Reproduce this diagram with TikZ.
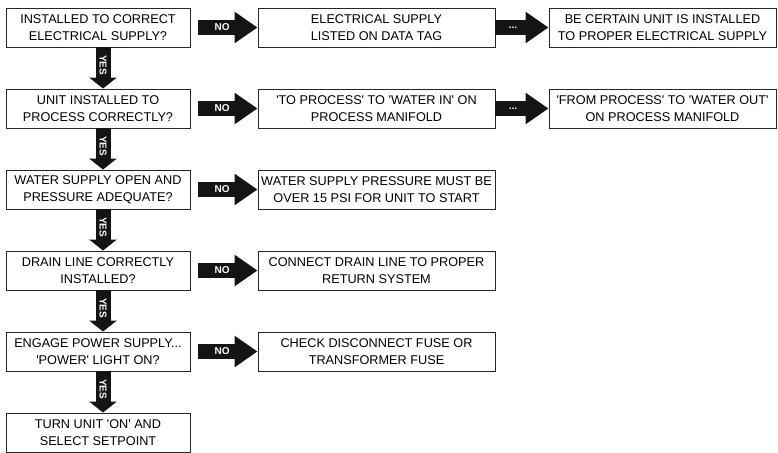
\documentclass[tikz,border=0pt]{standalone}
\usepackage{fontspec}
\setmainfont{Liberation Sans}[Ligatures=TeXOff]
\usetikzlibrary{arrows.meta}
\begin{document}
\begin{tikzpicture}[x=1pt,y=-1pt,
  box/.style={draw=black!85,line width=0.9pt,inner sep=0pt,align=center,
    font=\fontsize{12.7}{17}\selectfont,text=black},
  lbox/.style={box,minimum width=184pt,minimum height=39pt},
  mbox/.style={box,minimum width=237pt,minimum height=39pt},
  rbox/.style={box,minimum width=227pt,minimum height=39pt},
  harrow/.style={line width=15pt,black!92,-{Triangle[width=30pt,length=23pt]}},
  varrow/.style={line width=15pt,black!92,-{Triangle[width=27pt,length=11pt]}},
  lab/.style={text=white,font=\bfseries\fontsize{10}{10}\selectfont,inner sep=0pt}]
\useasboundingbox (0,0) rectangle (778,452);
% left column
\node[lbox] (q1) at (98,27.5) {INSTALLED TO CORRECT\\ELECTRICAL SUPPLY?};
\node[lbox] (q2) at (98,108.5) {UNIT INSTALLED TO\\PROCESS CORRECTLY?};
\node[lbox] (q3) at (98,189.5) {WATER SUPPLY OPEN AND\\PRESSURE ADEQUATE?};
\node[lbox] (q4) at (98,270.5) {DRAIN LINE CORRECTLY\\INSTALLED?};
\node[lbox] (q5) at (98,351.5) {ENGAGE POWER SUPPLY...\\'POWER' LIGHT ON?};
\node[lbox] (q6) at (98,432.5) {TURN UNIT 'ON' AND\\SELECT SETPOINT};
% middle column
\node[mbox] (m1) at (376.5,27.5) {ELECTRICAL SUPPLY\\LISTED ON DATA TAG};
\node[mbox] (m2) at (376.5,108.5) {'TO PROCESS' TO 'WATER IN' ON\\PROCESS MANIFOLD};
\node[mbox] (m3) at (376.5,189.5) {WATER SUPPLY PRESSURE MUST BE\\OVER 15 PSI FOR UNIT TO START};
\node[mbox] (m4) at (376.5,270.5) {CONNECT DRAIN LINE TO PROPER\\RETURN SYSTEM};
\node[mbox] (m5) at (376.5,351.5) {CHECK DISCONNECT FUSE OR\\TRANSFORMER FUSE};
% right column
\node[rbox] (r1) at (662.5,27.5) {BE CERTAIN UNIT IS INSTALLED\\TO PROPER ELECTRICAL SUPPLY};
\node[rbox] (r2) at (662.5,108.5) {'FROM PROCESS' TO 'WATER OUT'\\ON PROCESS MANIFOLD};
% NO arrows
\foreach \i in {1,...,5}{
  \draw[harrow] ([xshift=8pt]q\i.east) -- (m\i.west) node[lab,pos=0.4]{NO};
}
% ... arrows
\foreach \i in {1,2}{
  \draw[harrow] (m\i.east) -- (r\i.west) node[lab,pos=0.33]{...};
}
% YES arrows
\foreach \i/\j in {1/2,2/3,3/4,4/5,5/6}{
  \draw[varrow] ([xshift=5pt]q\i.south) -- ([xshift=5pt]q\j.north) node[lab,pos=0.43,rotate=-90]{YES};
}
\end{tikzpicture}
\end{document}
